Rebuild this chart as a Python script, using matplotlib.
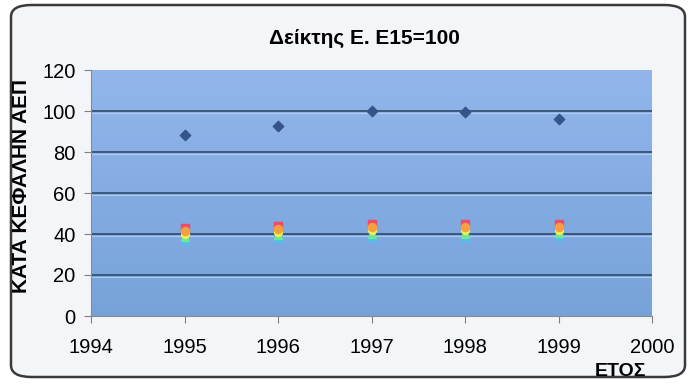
import matplotlib
matplotlib.use("Agg")
import matplotlib.pyplot as plt
import matplotlib.transforms as mtransforms
from matplotlib.colors import LinearSegmentedColormap
import numpy as np
from matplotlib.patches import FancyBboxPatch

plt.rcParams['font.family'] = ['Liberation Sans', 'DejaVu Sans']

years = [1995, 1996, 1997, 1998, 1999]
series_main = [88.5, 92.5, 100.0, 99.5, 96.0]
series_pink = [43.0, 44.0, 45.0, 45.0, 45.0]
series_orange = [41.5, 42.5, 43.5, 43.5, 43.5]
series_yellow = [40.0, 41.0, 42.0, 42.0, 42.0]
series_green = [38.5, 39.5, 40.0, 40.0, 40.5]
series_cyan = [36.5, 37.5, 38.0, 38.0, 38.5]

xticks = [1994, 1995, 1996, 1997, 1998, 1999, 2000]
yticks = [0, 20, 40, 60, 80, 100, 120]

title = "Δείκτης Ε. Ε15=100"
ylabel = "ΚΑΤΑ ΚΕΦΑΛΗΝ ΑΕΠ"
xlabel = "ΕΤΟΣ"

W, H = 694, 391
fig = plt.figure(figsize=(W / 100, H / 100), dpi=100)
fig.patch.set_facecolor("white")

# rounded frame
frame = FancyBboxPatch((11 / W, 14 / H), (674 / W), (372 / H),
                       boxstyle="round,pad=0,rounding_size=0.03",
                       transform=fig.transFigure, facecolor="#F3F5F9",
                       edgecolor="#3A3A3A", linewidth=1.8, zorder=-5)
fig.patches.append(frame)

ax = fig.add_axes([91 / W, 1 - 316 / H, (652 - 91) / W, (316 - 70) / H])
ax.set_zorder(1)

# gradient background
grad = np.linspace(0, 1, 256).reshape(-1, 1)
cmap = LinearSegmentedColormap.from_list("bg", ["#92B6EC", "#76A2DA"])
ax.imshow(grad, extent=[0, 1, 0, 1], transform=ax.transAxes, cmap=cmap,
          aspect="auto", origin="upper", zorder=0)
ax.set_facecolor("#88B0E4")
ax.set_xlim(xticks[0], xticks[-1])
ax.set_ylim(yticks[0], yticks[-1])

shift = mtransforms.ScaledTranslation(0, -2 / 100, fig.dpi_scale_trans)
for v in yticks[1:-1]:
    ax.axhline(v, color="#2E4A68", lw=1.2, zorder=1)
    hl = ax.axhline(v, color="#B0CAEE", lw=0.8, zorder=1)
    hl.set_transform(hl.get_transform() + shift)

ax.scatter(years, series_main, marker="D", s=28, color="#34548A", zorder=5)
ax.scatter(years, series_cyan, marker="x", s=28, color="#40C8F0", linewidths=1.8, zorder=4)
ax.scatter(years, series_green, marker="^", s=32, color="#70E890", zorder=4)
ax.scatter(years, series_yellow, marker="o", s=32, color="#F0F050", zorder=4)
ax.scatter(years, series_orange, marker="o", s=34, color="#F5A040", zorder=4)
ax.scatter(years, series_pink, marker="s", s=34, color="#F04A6A", zorder=3)

ax.set_xticks(xticks)
ax.set_yticks(yticks)
ax.tick_params(axis="both", labelsize=14.5, colors="#808080", length=5,
               labelcolor="black", pad=6)
ax.tick_params(axis="x", pad=11)
for s in ["top", "right"]:
    ax.spines[s].set_visible(False)
for s in ["left", "bottom"]:
    ax.spines[s].set_color("#8A8A8A")

fig.text(364 / W, 1 - 38 / H, title, ha="center", va="center",
         fontsize=15, fontweight="bold")
fig.text(22 / W, 1 - 186 / H, ylabel, ha="center", va="center",
         rotation=90, fontsize=15, fontweight="bold")
fig.text(621 / W, 1 - 371 / H, xlabel, ha="center", va="center",
         fontsize=14, fontweight="bold")

fig.savefig("out.png", dpi=100, facecolor=fig.get_facecolor())
